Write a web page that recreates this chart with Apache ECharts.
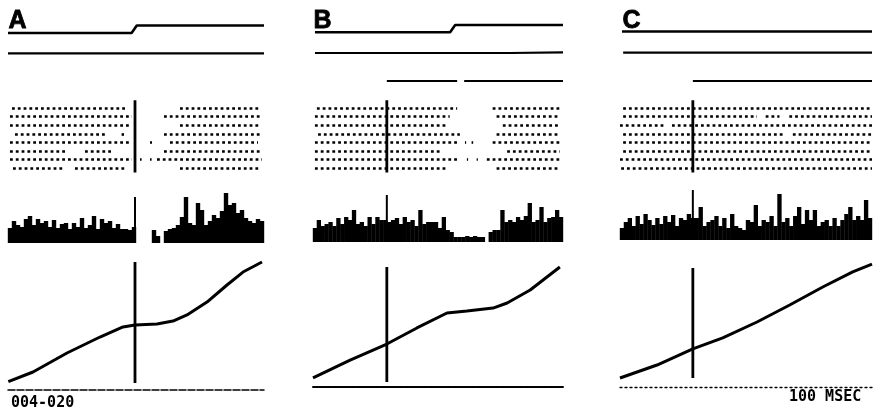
<!DOCTYPE html>
<html><head><meta charset="utf-8">
<script src="https://cdn.jsdelivr.net/npm/echarts@6/dist/echarts.min.js"></script>
<style>html,body{margin:0;padding:0;background:#fff}#c{width:873px;height:412px}</style>
</head><body><div id="c"></div>
<script>
// ---------------- data (x in histogram bins, 64 bins per panel) ----------------
const panelLabels = ['A', 'B', 'C'];
const idText = '004-020';
const scaleText = '100 MSEC';
const nBins = 64;
const stimBin = [31.75, 18.9, 18.5];

// stimulus monitor trace (0 = low level, 1 = high level)
const traceTopA = [[0, 0], [30.9, 0], [32.2, 0.94], [64, 0.94]];
const traceTopB = [[0.5, 0.09], [35.1, 0.09], [36.4, 1], [64, 1]];
const traceTopC = [[0.5, 0.19], [64, 0.19]];
// second trace
const trace2A = [[0, 0.47], [64, 0.47]];
const trace2B = [[0.5, 0.5], [50.4, 0.5], [50.8, 0.56], [64, 0.56]];
const trace2C = [[0.8, 0.53], [64, 0.53]];
// third trace segments [start, end]
const trace3A = [];
const trace3B = [[18.9, 36.9], [38.7, 64]];
const trace3C = [[18.5, 64]];

// raster rows: intervals of firing [start, end]
const rasterA = [
  [[1, 30], [43, 63]],
  [[0.5, 31], [39, 63]],
  [[0.5, 30.5], [43, 63]],
  [[1.75, 24.75], [28.4, 29], [39, 63.5]],
  [[0.5, 30.5], [35.5, 36], [40.5, 62.5]],
  [[0.5, 14.75], [19.25, 26.25], [39, 63]],
  [[0.5, 31], [33, 33.4], [35.5, 35.9], [37.25, 63.5]],
  [[1.25, 14.25], [16.75, 29.75], [43, 63]]
];
const rasterB = [
  [[1, 36.9], [46, 63.2]],
  [[0.5, 35], [47, 63.2]],
  [[0.5, 34.3], [48.6, 63.2]],
  [[1.3, 37.6], [47, 63.2]],
  [[0.5, 37.6], [38.9, 39.2], [40.6, 41], [46, 63.2]],
  [[0.5, 32.5], [49.7, 63.2]],
  [[0.5, 36.9], [39.4, 39.7], [41.9, 42.2], [44.5, 63.2]],
  [[0.5, 34.3], [47, 63.2]]
];
const rasterC = [
  [[0.8, 64]],
  [[0.8, 34.8], [37, 40.5], [43, 64]],
  [[0, 11.4], [13.2, 64]],
  [[0.8, 42], [43.9, 64]],
  [[0.8, 64]],
  [[0.8, 64]],
  [[0, 64]],
  [[0.3, 64]]
];

// peri-stimulus histograms (counts per bin)
const histA = [15,22,18,16,24,27,18,24,20,22, 16,23,15,19,20,14,20,16,25,15, 18,27,14,24,20,22,15,19,14,14,
  13,16,0,0,0,0,13,7,0,12, 14,15,18,26,46,20,18,40,33,18, 22,28,25,32,50,38,40,30,33,25, 22,20,24,22];
const histB = [14,22,16,18,20,16,24,18,25,22, 32,18,20,16,25,18,25,22,22,20, 22,24,18,25,20,22,16,32,18,20,
  20,20,14,25,12,10,5,5,5,6, 5,6,5,5,0,10,12,12,32,20, 22,20,25,22,26,39,20,22,35,20, 24,25,32,25];
const histC = [12,18,22,14,24,16,26,20,15,22, 16,24,18,25,14,22,20,26,22,22, 33,14,18,20,24,14,22,12,26,14,
  12,10,20,18,35,14,20,18,24,14, 46,18,22,14,24,33,16,30,20,30, 14,18,20,14,22,14,20,26,33,20, 24,20,40,22];
const histStimHeight = [46, 47, 50];

// cumulative counts (percent of final)
const cumA = [[0.08,1.1],[6.25,9.1],[14.75,24.8],[23,38],[28.75,46.3],[31.75,47.9],[37.25,48.8],[41.25,51.2],
  [44.75,56.2],[49.75,66.9],[54.75,81],[58.75,91.7],[63.5,100]];
const cumB = [[0,3.5],[9.5,19.1],[18.9,33],[26.6,47],[34.3,60],[39.4,61.7],[46.1,64.3],[49.7,68.7],[55.6,80],[63.2,100]];
const cumC = [[0,0],[9.4,11.8],[18.5,26.4],[26.1,36.4],[34.8,50.9],[43.1,66.4],[51.5,82.7],[59.1,96.4],[64,103.6]];

// ---------------- layout ----------------
const panels = [
  {L: 8, R: 264, histBase: 243, cumTop: 262, cumBot: 383, axisOff: 7, axisDash: [7, 2], axisW: 1.5,
   top: traceTopA, t2: trace2A, t3: trace3A, raster: rasterA, hist: histA, cum: cumA},
  {L: 313, R: 563, histBase: 242, cumTop: 267, cumBot: 382, axisOff: 5, axisDash: [2, 1], axisW: 2,
   top: traceTopB, t2: trace2B, t3: trace3B, raster: rasterB, hist: histB, cum: cumB},
  {L: 620, R: 872, histBase: 240, cumTop: 268, cumBot: 378, axisOff: 9, axisDash: [2, 3], axisW: 1.3,
   top: traceTopC, t2: trace2C, t3: trace3C, raster: rasterC, hist: histC, cum: cumC}
];

const grid = [], xAxis = [], yAxis = [], series = [];
function addGrid(p, top, height, yMin, yMax, inverse, xExtra) {
  const i = grid.length;
  grid.push({left: p.L, top: top, width: p.R - p.L, height: height, containLabel: false});
  xAxis.push(Object.assign({type: 'value', gridIndex: i, min: 0, max: nBins, show: false,
    splitLine: {show: false}}, xExtra || {}));
  yAxis.push({type: 'value', gridIndex: i, min: yMin, max: yMax, inverse: !!inverse, show: false, splitLine: {show: false}});
  return i;
}
const black = '#000';
function lineSeries(gi, data, width) {
  return {type: 'line', xAxisIndex: gi, yAxisIndex: gi, data: data, showSymbol: false, symbol: 'none',
    lineStyle: {color: black, width: width}, clip: false, silent: true, z: 3};
}

panels.forEach((p, k) => {
  // stimulus trace
  let g = addGrid(p, 25, 8, 0, 1);
  series.push(lineSeries(g, p.top, 2.6));
  g = addGrid(p, 48, 10, 0, 1);
  series.push(lineSeries(g, p.t2, 2.2));
  g = addGrid(p, 76, 10, 0, 1);
  series.push({type: 'lines', coordinateSystem: 'cartesian2d', xAxisIndex: g, yAxisIndex: g, silent: true,
    data: p.t3.map(([s, e]) => ({coords: [[s, 0.5], [e, 0.5]]})),
    lineStyle: {color: black, width: 2.2, opacity: 1}});
  // raster
  g = addGrid(p, 99.4, 77.4, 0, 9, true);
  const rows = [];
  p.raster.forEach((row, r) => row.forEach(([s, e]) => rows.push({coords: [[s, r + 1], [e, r + 1]]})));
  series.push({type: 'lines', coordinateSystem: 'cartesian2d', xAxisIndex: g, yAxisIndex: g, silent: true,
    data: rows, lineStyle: {color: black, width: 2.6, opacity: 1, type: [2.8, 3]}});
  series.push(lineSeries(g, [[stimBin[k], 0.1], [stimBin[k], 8.5]], 2.8));
  // histogram
  g = addGrid(p, p.histBase - 53, 53, 0, 53);
  series.push({type: 'bar', xAxisIndex: g, yAxisIndex: g, silent: true,
    data: p.hist.map((v, i) => [i + 0.5, v]),
    barWidth: (p.R - p.L) / nBins + 0.4, barGap: '-100%',
    itemStyle: {color: black}});
  series.push(lineSeries(g, [[stimBin[k], 0], [stimBin[k], histStimHeight[k]]], 2));
  // cumulative
  g = addGrid(p, p.cumTop, p.cumBot - p.cumTop, 0, 100, false, {
    show: true, offset: p.axisOff,
    axisLine: {show: true, onZero: false, lineStyle: {color: black, width: p.axisW, type: p.axisDash}},
    axisTick: {show: false}, axisLabel: {show: false}
  });
  series.push(lineSeries(g, p.cum, 3));
  series.push(lineSeries(g, [[stimBin[k], 0], [stimBin[k], 100]], 2.8));
});

const graphic = panelLabels.map((t, k) => ({
  type: 'text', left: panels[k].L + (k === 2 ? 2 : 0), top: 8,
  style: {text: t, fill: black, stroke: black, lineWidth: 0.8,
    font: 'bold 25px "Liberation Sans", Arial, sans-serif'}
}));
graphic.push({type: 'text', left: 11, top: 396,
  style: {text: idText, fill: black, font: 'bold 15px "DejaVu Sans Mono", monospace'}});
graphic.push({type: 'text', left: 789, top: 390,
  style: {text: scaleText, fill: black, font: 'bold 15px "DejaVu Sans Mono", monospace'}});

const chart = echarts.init(document.getElementById('c'), null, {renderer: 'canvas'});
chart.setOption({animation: false, backgroundColor: '#fff', grid, xAxis, yAxis, series, graphic});
</script></body></html>
